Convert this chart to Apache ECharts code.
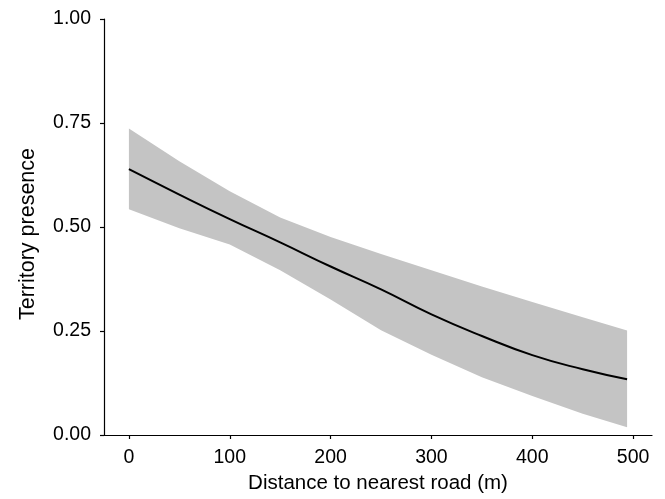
<!DOCTYPE html>
<html>
<head>
<meta charset="utf-8">
<script src="https://cdn.jsdelivr.net/npm/echarts@6/dist/echarts.min.js"></script>
<style>
html,body{margin:0;padding:0;background:#fff;}
#chart{width:665px;height:499px;}
</style>
</head>
<body>
<div id="chart"></div>
<script>
// Distance to nearest road (m)
var distances = [0, 50, 100, 150, 200, 250, 300, 350, 400, 450, 494];
// Fitted territory presence
var fitted = [0.639, 0.578, 0.519, 0.463, 0.405, 0.350, 0.290, 0.238, 0.192, 0.158, 0.134];
// Confidence band
var upperCI = [0.737, 0.658, 0.586, 0.523, 0.476, 0.435, 0.396, 0.357, 0.320, 0.283, 0.251];
var lowerCI = [0.5425, 0.497, 0.458, 0.396, 0.326, 0.252, 0.193, 0.139, 0.094, 0.051, 0.0185];
// Tick labels
var xTicks = [0, 100, 200, 300, 400, 500];
var yTicks = [0, 0.25, 0.5, 0.75, 1];
var yTickLabels = ['0.00', '0.25', '0.50', '0.75', '1.00'];

var FONT = 'Liberation Sans, Arial, sans-serif';

var bandData = distances.map(function (x, i) { return [x, lowerCI[i], upperCI[i]]; });
var fitData = distances.map(function (x, i) { return [x, fitted[i]]; });

function renderBand(params, api) {
  if (params.dataIndex !== 0) return null;
  var pts = [];
  var i;
  for (i = 0; i < bandData.length; i++) pts.push(api.coord([bandData[i][0], bandData[i][2]]));
  for (i = bandData.length - 1; i >= 0; i--) pts.push(api.coord([bandData[i][0], bandData[i][1]]));
  return {
    type: 'polygon',
    shape: {points: pts},
    style: {fill: '#c4c4c4', stroke: null}
  };
}

var chart = echarts.init(document.getElementById('chart'), null, {renderer: 'canvas'});
chart.setOption({
  animation: false,
  backgroundColor: '#ffffff',
  grid: {left: 104, top: 19, right: 13, bottom: 64, containLabel: false},
  xAxis: {
    type: 'value',
    min: -24.7,
    max: 518.7,
    name: 'Distance to nearest road (m)',
    nameLocation: 'middle',
    nameGap: 38,
    nameTextStyle: {fontFamily: FONT, fontSize: 20.5, color: '#000'},
    axisLine: {show: true, onZero: false, lineStyle: {color: '#000', width: 1.2}},
    axisTick: {show: true, length: 4, customValues: xTicks, lineStyle: {color: '#000', width: 1.2}},
    axisLabel: {customValues: xTicks, margin: 13, fontFamily: FONT, fontSize: 19.5, color: '#000'},
    splitLine: {show: false}
  },
  yAxis: {
    type: 'value',
    min: 0,
    max: 1,
    name: 'Territory presence',
    nameLocation: 'middle',
    nameGap: 65,
    nameTextStyle: {fontFamily: FONT, fontSize: 21.5, color: '#000', padding: [0, 14, 0, 0]},
    axisLine: {show: true, onZero: false, lineStyle: {color: '#000', width: 1.2}},
    axisTick: {show: true, length: 4, customValues: yTicks, lineStyle: {color: '#000', width: 1.2}},
    axisLabel: {
      customValues: yTicks, margin: 13, fontFamily: FONT, fontSize: 19.5, color: '#000',
      formatter: function (v) { var i = yTicks.indexOf(v); return i >= 0 ? yTickLabels[i] : v.toFixed(2); }
    },
    splitLine: {show: false}
  },
  series: [
    {
      type: 'custom', name: 'band', data: bandData,
      encode: {x: 0, y: [1, 2]},
      renderItem: renderBand, silent: true
    },
    {
      type: 'line', name: 'fit', data: fitData,
      symbol: 'none', smooth: true,
      lineStyle: {color: '#000', width: 2}
    }
  ]
});
</script>
</body>
</html>
